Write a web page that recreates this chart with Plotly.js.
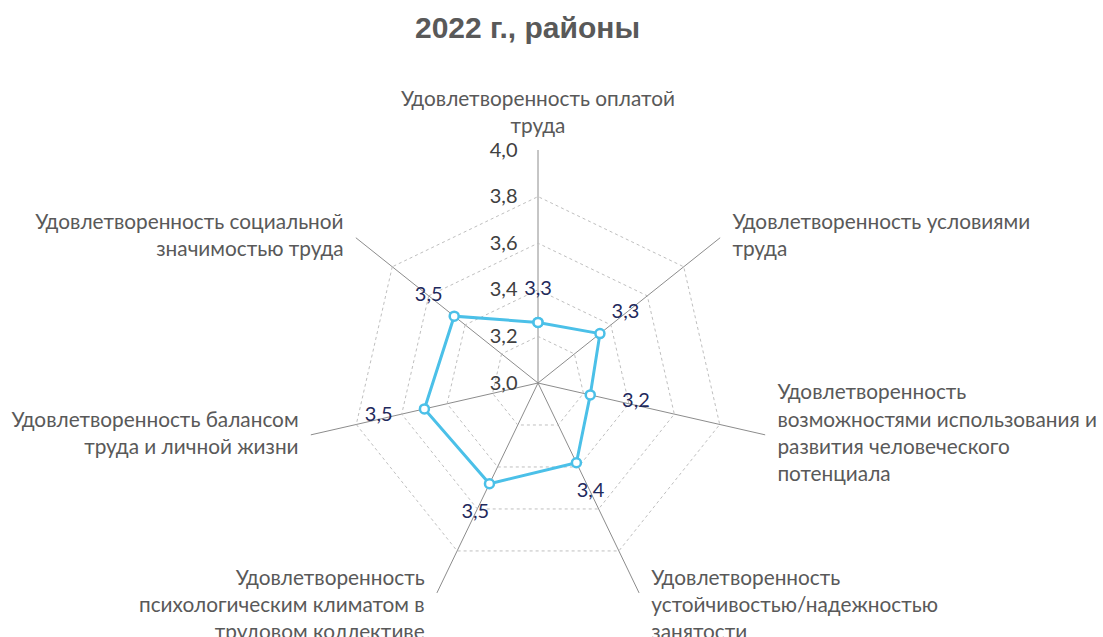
<!DOCTYPE html>
<html>
<head>
<meta charset="utf-8">
<script src="https://cdn.plot.ly/plotly-3.0.1.min.js"></script>
<style>html,body{margin:0;padding:0;background:#fff;}#chart{width:1103px;height:637px;}</style>
</head>
<body>
<div id="chart"></div>
<script>
const categories = [
  "Удовлетворенность оплатой<br>труда",
  "Удовлетворенность условиями<br>труда",
  "Удовлетворенность<br>возможностями использования и<br>развития человеческого<br>потенциала",
  "Удовлетворенность<br>устойчивостью/надежностью<br>занятости",
  "Удовлетворенность<br>психологическим климатом в<br>трудовом коллективе",
  "Удовлетворенность балансом<br>труда и личной жизни",
  "Удовлетворенность социальной<br>значимостью труда"
];
const values2022 = [3.26, 3.34, 3.23, 3.38, 3.48, 3.50, 3.46];
const radialTicks = [3.0, 3.2, 3.4, 3.6, 3.8, 4.0];
const radialRange = [3.0, 4.0];
const chartTitle = "2022 г., районы";

const fmt = v => v.toFixed(1).replace('.', ',');
const thetaClosed = categories.concat([categories[0]]);
const valuesClosed = values2022.concat([values2022[0]]);
const labelOffset = 0.14;

const FONT = 'Lato, "Open Sans", sans-serif';

// bottom labels sit centred a half line lower, as in the original
const categoryLabels = categories.map((c, i) => (i === 3 || i === 4) ? '<br>' + c : c);

const traces = [
  {
    type: 'scatterpolar',
    mode: 'lines+markers',
    theta: thetaClosed,
    r: valuesClosed,
    line: {color: '#4BC0E8', width: 3},
    marker: {size: 9, color: '#ffffff', line: {color: '#4BC0E8', width: 2.5}},
    hoverinfo: 'skip',
    showlegend: false
  },
  {
    type: 'scatterpolar',
    mode: 'text',
    theta: categories,
    r: values2022.map(v => v + labelOffset),
    text: values2022.map(fmt),
    textposition: ['middle center','middle center','middle right','middle center','middle center','middle left','middle center'],
    textfont: {family: FONT, size: 20, color: '#1F2A5C'},
    cliponaxis: false,
    hoverinfo: 'skip',
    showlegend: false
  },
  {
    type: 'scatterpolar',
    mode: 'markers+text',
    theta: categories,
    r: categories.map(() => radialRange[1]),
    text: categoryLabels,
    marker: {size: 18, color: 'rgba(0,0,0,0)', line: {width: 0}},
    textposition: ['top center','middle right','middle right','middle right','middle left','middle left','middle left'],
    textfont: {family: FONT, size: 20.8, color: '#595959'},
    cliponaxis: false,
    hoverinfo: 'skip',
    showlegend: false
  }
];

const cx = 538, cy = 383, R = 233, W = 1103, H = 637;

const layout = {
  width: W, height: H,
  margin: {l: 0, r: 0, t: 0, b: 0},
  paper_bgcolor: '#ffffff',
  separators: ', ',
  showlegend: false,
  title: {
    text: '<b>' + chartTitle + '</b>',
    x: 527.5 / W, xanchor: 'center',
    y: 1 - 27 / H, yanchor: 'middle', yref: 'container',
    font: {family: '"Liberation Sans", Arial, sans-serif', size: 30, color: '#595959'}
  },
  polar: {
    domain: {x: [(cx - R) / W, (cx + R) / W], y: [(H - cy - R) / H, (H - cy + R) / H]},
    bgcolor: '#ffffff',
    gridshape: 'linear',
    angularaxis: {
      direction: 'clockwise',
      rotation: 90,
      showline: false,
      showgrid: true,
      gridcolor: '#8c8c8c',
      gridwidth: 1,
      ticks: '',
      showticklabels: false
    },
    radialaxis: {
      range: radialRange,
      tickvals: radialTicks,
      ticktext: radialTicks.map(fmt),
      angle: 90,
      side: 'counterclockwise',
      showline: false,
      showgrid: true,
      gridcolor: '#bfbfbf',
      griddash: 'dot',
      gridwidth: 1,
      ticks: 'outside',
      ticklen: 13,
      tickcolor: 'rgba(0,0,0,0)',
      tickangle: 90,
      tickfont: {family: FONT, size: 20, color: '#404040'}
    }
  }
};

Plotly.newPlot('chart', traces, layout, {displayModeBar: false, staticPlot: true});
</script>
</body>
</html>
